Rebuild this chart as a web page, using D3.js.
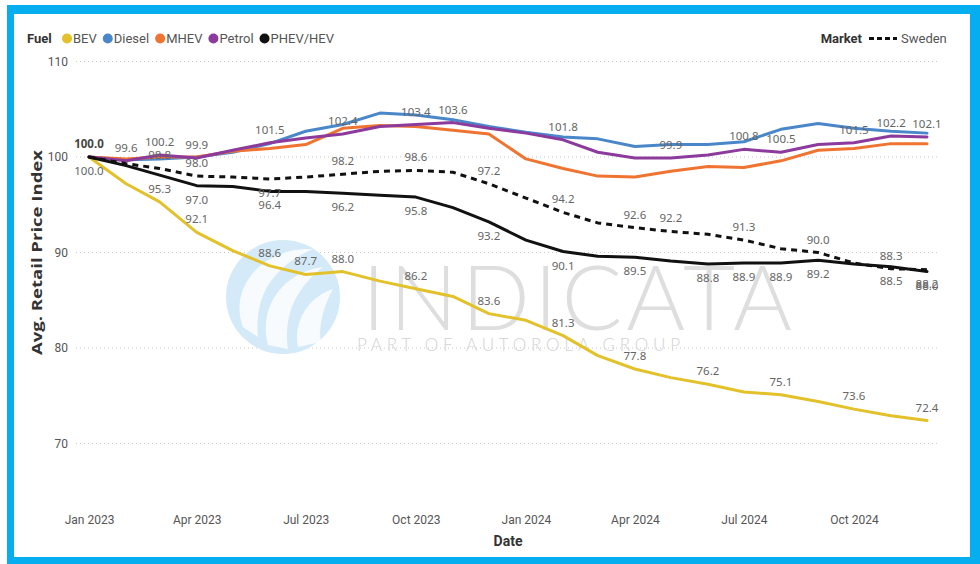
<!DOCTYPE html>
<html><head><meta charset="utf-8">
<script src="https://cdn.jsdelivr.net/npm/d3@7"></script>
<style>
html,body{margin:0;padding:0;background:#fff;}
svg{display:block;}
</style></head>
<body>
<svg id="chart" width="980" height="564"></svg>
<script>
// ---------- DATA ----------
const months = ["2023-01","2023-02","2023-03","2023-04","2023-05","2023-06","2023-07","2023-08","2023-09","2023-10","2023-11","2023-12",
                "2024-01","2024-02","2024-03","2024-04","2024-05","2024-06","2024-07","2024-08","2024-09","2024-10","2024-11","2024-12"];
const fuelNames = ["BEV","Diesel","MHEV","Petrol","PHEV/HEV"];
const bev    = [100.0,97.2,95.3,92.1,90.2,88.6,87.7,88.0,87.0,86.2,85.4,83.6,82.9,81.3,79.2,77.8,76.9,76.2,75.4,75.1,74.4,73.6,72.9,72.4];
const diesel = [100.0,99.7,99.8,100.0,100.5,101.4,102.7,103.4,104.6,104.4,103.9,103.2,102.6,102.1,101.9,101.1,101.3,101.3,101.6,102.9,103.5,103.0,102.7,102.5];
const mhev   = [100.0,99.8,100.0,100.0,100.6,100.9,101.3,103.0,103.3,103.2,102.8,102.4,99.8,98.8,98.0,97.9,98.5,99.0,98.9,99.6,100.7,100.9,101.4,101.4];
const petrol = [100.0,99.6,100.2,99.9,100.7,101.5,102.0,102.4,103.2,103.4,103.6,103.0,102.5,101.8,100.5,99.9,99.9,100.2,100.8,100.5,101.3,101.5,102.2,102.1];
const phev   = [100.0,99.1,98.1,97.0,96.9,96.4,96.4,96.2,96.0,95.8,94.7,93.2,91.3,90.1,89.6,89.5,89.1,88.8,88.9,88.9,89.2,88.8,88.5,88.0];
const sweden = [100.0,99.3,98.8,98.0,97.9,97.7,97.9,98.2,98.5,98.6,98.4,97.2,95.7,94.2,93.1,92.6,92.2,91.9,91.3,90.4,90.0,88.9,88.3,88.2];
const marketName = "Sweden";
const yTicks = [70,80,90,100,110];

// which points carry a data label
const bevLabelsAbove    = [2,3,5,6,7,9,11,13,15,17,19,21,23];
const bevLabelsBelow    = [0];
const petrolLabelsAbove = [0,1,2,3,5,7,9,10,13,16,18,19,21,22,23];
const swedenLabelsAbove = [2,3,7,9,11,13,15,16,18,20,22];
const swedenLabelsBelow = [5,23];
const phevLabelsBelow   = [3,5,7,9,11,13,15,17,18,19,20,22,23];

// ---------- STYLE ----------
const colors = {"BEV":"#E2C12B","Diesel":"#4A87C9","MHEV":"#EF7431","Petrol":"#8C3A9C","PHEV/HEV":"#111111"};
const series = [
  {name:"BEV", values:bev},
  {name:"Diesel", values:diesel},
  {name:"MHEV", values:mhev},
  {name:"Petrol", values:petrol},
  {name:"PHEV/HEV", values:phev}
];

const parse = d3.timeParse("%Y-%m");
const dates = months.map(parse);

const svg = d3.select("#chart");

// frame
svg.append("rect").attr("x",7).attr("y",5).attr("width",973).attr("height",559).attr("fill","#06AEEF");
svg.append("rect").attr("x",14).attr("y",14).attr("width",956).attr("height",543).attr("fill","#ffffff");

const x = d3.scaleTime().domain([dates[0], dates[dates.length-1]]).range([89, 927]);
const y = d3.scaleLinear().domain([70,110]).range([443.5, 61.5]);

// gridlines + y tick labels
const grid = svg.append("g");
yTicks.forEach(t=>{
  grid.append("line").attr("x1",76).attr("x2",937).attr("y1",y(t)).attr("y2",y(t))
    .attr("stroke","#c8c8c8").attr("stroke-width",1).attr("stroke-dasharray","1,3");
});
const yAxis = d3.axisLeft(y).tickValues(yTicks).tickSize(0).tickPadding(0).tickFormat(d3.format("d"));
const gy = svg.append("g").attr("transform","translate(68,0)").call(yAxis);
gy.select(".domain").remove();
gy.selectAll("text").attr("font-family","Roboto, sans-serif").attr("font-size",12).attr("fill","#555");

// x axis
const xAxis = d3.axisBottom(x).ticks(d3.timeMonth.every(3)).tickSize(0).tickPadding(0).tickFormat(d3.timeFormat("%b %Y"));
const gx = svg.append("g").attr("transform","translate(0,515)").call(xAxis);
gx.select(".domain").remove();
gx.selectAll("text").attr("font-family","Roboto, sans-serif").attr("font-size",12).attr("fill","#555");

// axis titles
svg.append("text").attr("x",508).attr("y",546).attr("text-anchor","middle")
  .attr("font-family","Roboto, sans-serif").attr("font-weight","bold").attr("font-size",14).attr("fill","#333").text("Date");
svg.append("text").attr("transform","translate(42,355) rotate(-90)")
  .attr("textLength",205).attr("lengthAdjust","spacingAndGlyphs")
  .attr("font-family","'Open Sans', sans-serif").attr("font-weight","bold").attr("font-size",14.5).attr("fill","#333")
  .text("Avg. Retail Price Index");

// watermark
const wm = svg.append("g");
const logo = wm.append("g").attr("transform","translate(283,297)");
logo.append("circle").attr("r",57).attr("fill","#d4eaf8");
logo.append("path").attr("d","M-40,30 C-55,-10 -20,-50 30,-48 C0,-35 -30,-10 -25,40 Z").attr("fill","#ffffff").attr("opacity",0.8);
logo.append("path").attr("d","M-15,48 C-25,10 0,-25 40,-30 C15,-10 0,15 5,52 Z").attr("fill","#ffffff").attr("opacity",0.8);
logo.append("path").attr("d","M15,50 C10,25 25,0 50,-8 C40,10 35,30 38,45 Z").attr("fill","#ffffff").attr("opacity",0.8);
wm.append("text").attr("x",362).attr("y",330).attr("textLength",430).attr("lengthAdjust","spacing")
  .attr("font-family","Lato, sans-serif").attr("font-weight",300).attr("font-size",90).attr("fill","#dedede").text("INDICATA");
wm.append("text").attr("x",357).attr("y",351).attr("textLength",323).attr("lengthAdjust","spacing")
  .attr("font-family","Lato, sans-serif").attr("font-weight",300).attr("font-size",17).attr("fill","#d2d2d2").text("PART OF AUTOROLA GROUP");

// lines
const line = d3.line().x((d,i)=>x(dates[i])).y(d=>y(d));
const lines = svg.append("g").attr("fill","none").attr("stroke-linejoin","round").attr("stroke-linecap","round");
series.forEach(s=>{
  lines.append("path").datum(s.values).attr("d",line).attr("stroke",colors[s.name]).attr("stroke-width",3);
});
lines.append("path").datum(sweden).attr("d",line).attr("stroke","#111").attr("stroke-width",3)
  .attr("stroke-linecap","butt").attr("stroke-dasharray","6,5");

// data labels
const lab = svg.append("g").attr("font-family","'Noto Sans', sans-serif").attr("font-size",11.5).attr("fill","#666").attr("text-anchor","middle");
function addLabels(vals, idxs, side){
  idxs.forEach(i=>{
    const t = lab.append("text").attr("x",x(dates[i]))
      .attr("y", side==="above" ? y(vals[i]) - 9 : y(vals[i]) + 18)
      .text(vals[i].toFixed(1));
    if(i===0 && side==="above") t.attr("font-weight","bold").attr("fill","#444");
  });
}
addLabels(bev, bevLabelsAbove, "above");
addLabels(bev, bevLabelsBelow, "below");
addLabels(petrol, petrolLabelsAbove, "above");
addLabels(sweden, swedenLabelsAbove, "above");
addLabels(sweden, swedenLabelsBelow, "below");
addLabels(phev, phevLabelsBelow, "below");

// legend
const leg = svg.append("g").attr("font-family","Roboto, sans-serif").attr("font-size",13);
leg.append("text").attr("x",27).attr("y",43).attr("font-weight","bold").attr("fill","#333").text("Fuel");
let lx = 62;
fuelNames.forEach(n=>{
  leg.append("circle").attr("cx",lx+5).attr("cy",38.5).attr("r",5).attr("fill",colors[n]);
  const t = leg.append("text").attr("x",lx+11).attr("y",43).attr("fill","#555").text(n);
  lx += 11 + t.node().getComputedTextLength() + 6;
});
leg.append("text").attr("x",862).attr("y",43).attr("text-anchor","end").attr("font-weight","bold").attr("fill","#333").text("Market");
leg.append("line").attr("x1",869).attr("x2",897).attr("y1",38.5).attr("y2",38.5).attr("stroke","#111").attr("stroke-width",3).attr("stroke-dasharray","5,3");
leg.append("text").attr("x",901).attr("y",43).attr("fill","#555").text(marketName);
</script>
</body></html>
